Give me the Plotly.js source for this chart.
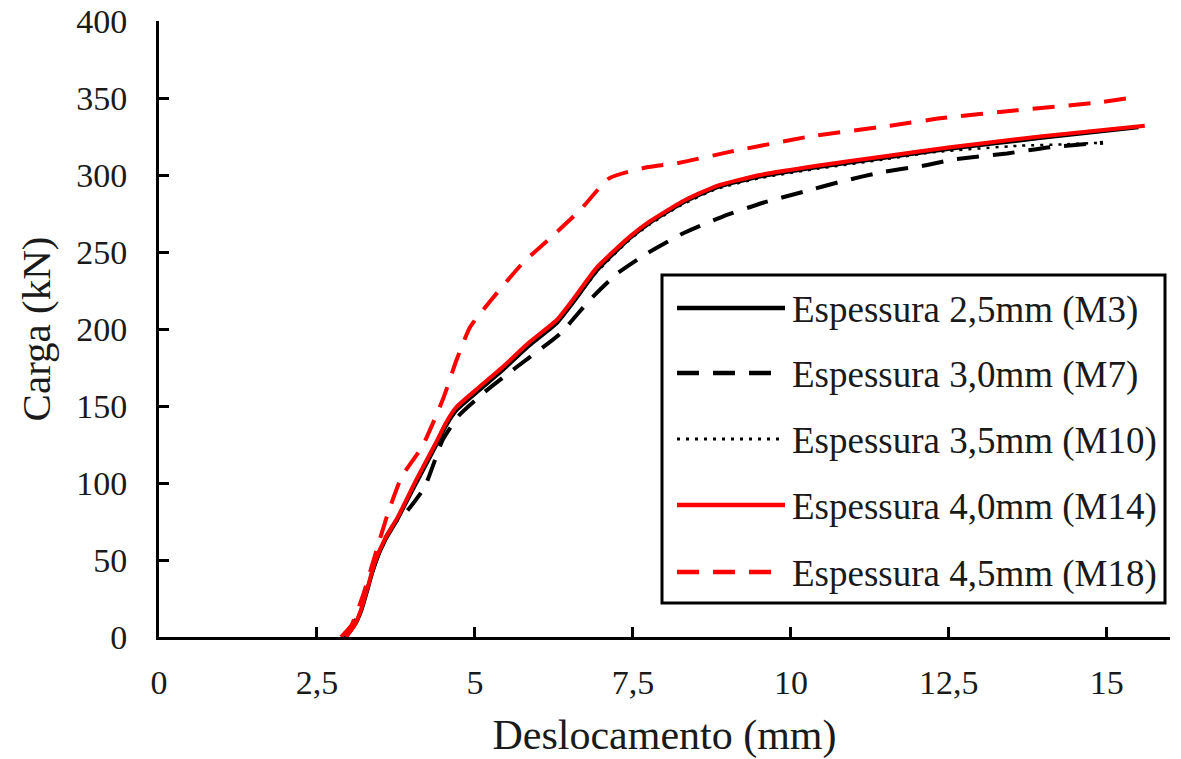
<!DOCTYPE html>
<html>
<head>
<meta charset="utf-8">
<script src="https://cdn.plot.ly/plotly-3.0.1.min.js"></script>
<style>html,body{margin:0;padding:0;background:#fff;}#chart{width:1181px;height:759px;}</style>
</head>
<body>
<div id="chart"></div>
<script>
// ---- data ----
var seriesNames = ["Espessura 2,5mm (M3)", "Espessura 3,0mm (M7)", "Espessura 3,5mm (M10)", "Espessura 4,0mm (M14)", "Espessura 4,5mm (M18)"];

var m3X = [2.95, 3.1, 3.2, 3.3, 3.42, 3.58, 3.78, 4.07, 4.38, 4.54, 4.7, 5.06, 5.43, 5.85, 6.3, 6.55, 6.93, 7.45, 7.77, 8.29, 8.83, 9.51, 10.41, 11.46, 12.52, 13.94, 15.5];
var m3Y = [0, 8, 17, 31, 48, 63, 77, 100, 124, 137, 147, 160, 173, 189, 204, 217, 238, 259, 269, 282, 292, 299, 305, 311, 317, 324, 331];

var m7X = [2.92, 3.1, 3.25, 3.4, 3.55, 3.75, 3.91, 4.2, 4.49, 4.75, 5.18, 5.65, 6.35, 6.82, 7.25, 7.72, 8.29, 8.92, 9.56, 10.19, 10.82, 11.46, 12.09, 12.56, 13.42, 14.1, 14.94];
var m7Y = [0, 10, 25, 45, 62, 75, 81, 97, 128, 144, 160, 175, 197, 219, 236, 249, 262, 273, 282, 289, 296, 302, 306, 310, 314, 318, 321];

var m10X = [2.93, 3.1, 3.2, 3.3, 3.42, 3.58, 3.78, 4.07, 4.38, 4.54, 4.7, 5.06, 5.43, 5.85, 6.3, 6.55, 6.93, 7.45, 7.77, 8.29, 8.83, 9.51, 10.41, 11.46, 12.3, 13.62, 14.37, 14.94];
var m10Y = [0, 8, 17, 31, 48, 63, 77, 100, 124, 137, 147, 160, 173, 189, 204, 217, 237, 258, 268, 281, 291, 298, 304, 310, 315, 319, 320, 321];

var m14X = [2.96, 3.1, 3.2, 3.3, 3.42, 3.58, 3.78, 4.07, 4.38, 4.54, 4.7, 5.06, 5.43, 5.85, 6.3, 6.55, 6.93, 7.45, 7.77, 8.29, 8.83, 9.51, 10.41, 11.46, 12.52, 13.94, 15.6];
var m14Y = [0, 8, 18, 32, 49, 64, 78, 102, 126, 139, 149, 162, 175, 191, 206, 219, 240, 260, 270, 283, 293, 300, 306, 312, 318, 325, 332];

var m18X = [2.88, 3.05, 3.22, 3.44, 3.62, 3.84, 4.17, 4.49, 4.71, 4.92, 5.24, 5.76, 6.19, 6.66, 7.13, 7.72, 8.24, 9.03, 10.3, 11.57, 12.4, 13.58, 14.84, 15.36];
var m18Y = [0, 8, 26, 56, 80, 104, 124, 154, 180, 201, 218, 243, 259, 277, 298, 305, 308, 315, 325, 332, 337, 342, 347, 350];

var xTickVals = [0, 2.5, 5, 7.5, 10, 12.5, 15];
var xTickText = ["0", "2,5", "5", "7,5", "10", "12,5", "15"];
var yTickVals = [0, 50, 100, 150, 200, 250, 300, 350, 400];
var yTickText = ["0", "50", "100", "150", "200", "250", "300", "350", "400"];

var xTitle = "Deslocamento (mm)";
var yTitle = "Carga (kN)";

// ---- styles ----
var FONT = "Liberation Serif, Times New Roman, serif";
var DASH = "22px,14px";
var DOT = "3px,6px";
var styles = [
  {color: "#000000", width: 4, dash: "solid"},
  {color: "#000000", width: 4, dash: DASH},
  {color: "#000000", width: 2.5, dash: DOT},
  {color: "#ff0000", width: 4, dash: "solid"},
  {color: "#ff0000", width: 4, dash: DASH}
];
var xs = [m3X, m7X, m10X, m14X, m18X];
var ys = [m3Y, m7Y, m10Y, m14Y, m18Y];

var traces = xs.map(function (x, i) {
  return {
    x: x, y: ys[i], name: seriesNames[i], type: "scatter", mode: "lines",
    line: {color: styles[i].color, width: styles[i].width, dash: styles[i].dash, shape: "spline", smoothing: 0.5},
    showlegend: false, hoverinfo: "skip"
  };
});

// plot area in pixels
var L = 159, R = 1170, T = 21, B = 637, W = 1181, H = 759;
function px(x) { return (x - L) / (R - L); }
function py(y) { return (B - y) / (B - T); }

// custom legend (long line samples like the reference)
var legBox = {x0: 662, y0: 275, x1: 1165, y1: 603};
var rowY = [308, 373, 439, 505, 572];
var shapes = [{
  type: "rect", xref: "paper", yref: "paper",
  x0: px(legBox.x0), x1: px(legBox.x1), y0: py(legBox.y1), y1: py(legBox.y0),
  line: {color: "#000", width: 3}, fillcolor: "#ffffff", layer: "above"
}];
var annotations = [];
rowY.forEach(function (ry, i) {
  shapes.push({
    type: "line", xref: "paper", yref: "paper",
    x0: px(677), x1: px(785), y0: py(ry), y1: py(ry),
    line: {color: styles[i].color, width: styles[i].width === 2.5 ? 3 : 4.5, dash: styles[i].dash}, layer: "above"
  });
  annotations.push({
    xref: "paper", yref: "paper", x: px(790), y: py(ry + 2), xanchor: "left", yanchor: "middle",
    text: seriesNames[i], showarrow: false, font: {family: FONT, size: 37, color: "#1a1a1a"}
  });
});

var axisCommon = {
  showgrid: false, zeroline: false, showline: true, linecolor: "#000", linewidth: 3,
  ticks: "inside", ticklen: 10, tickwidth: 3, tickcolor: "#000",
  tickfont: {family: FONT, size: 34, color: "#1a1a1a"}
};

var layout = {
  width: W, height: H,
  margin: {l: L, r: W - R, t: T, b: H - B, pad: 0},
  paper_bgcolor: "#fff", plot_bgcolor: "#fff",
  font: {family: FONT},
  xaxis: Object.assign({}, axisCommon, {
    range: [0, 16], tickmode: "array", tickvals: xTickVals, ticktext: xTickText,
    ticklabelstandoff: 13,
    title: {text: xTitle, font: {family: FONT, size: 42, color: "#1a1a1a"}, standoff: 22}
  }),
  yaxis: Object.assign({}, axisCommon, {
    range: [0, 400], tickmode: "array", tickvals: yTickVals, ticktext: yTickText,
    ticklabelstandoff: 22,
    title: {text: yTitle, font: {family: FONT, size: 41, color: "#1a1a1a"}, standoff: 13}
  }),
  shapes: shapes,
  annotations: annotations,
  showlegend: false
};

Plotly.newPlot("chart", traces, layout, {staticPlot: true, displayModeBar: false});
</script>
</body>
</html>
